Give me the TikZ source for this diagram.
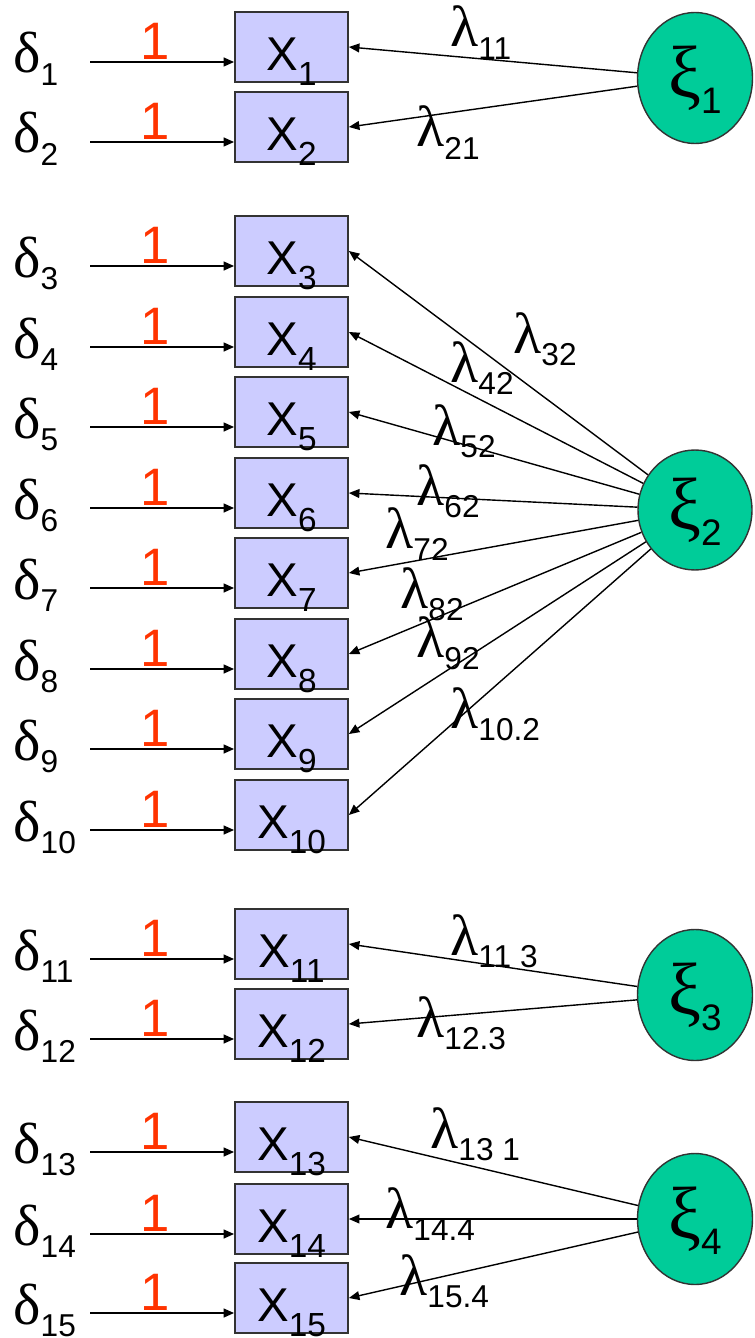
\documentclass[tikz,border=0pt]{standalone}
\usepackage{fontspec}
\setmainfont{Liberation Sans}
\newfontfamily\grk{Liberation Serif}
\usetikzlibrary{arrows.meta, shapes.geometric}
\definecolor{boxlav}{HTML}{CCCCFF}
\definecolor{latgreen}{HTML}{00CC99}
\definecolor{onered}{HTML}{FF3300}
\definecolor{edgegray}{HTML}{333333}

% lowered sans subscript: size, drop, text
\newcommand{\lowsub}[3]{\raisebox{-#2}[0pt][0pt]{\fontsize{#1}{#1}\selectfont #3}}
\newcommand{\dlab}[1]{{\fontsize{33}{33}\selectfont\grk δ}\lowsub{18}{7pt}{#1}}
\newcommand{\llab}[1]{{\fontsize{33}{33}\selectfont\grk λ}\lowsub{18}{7pt}{#1}}
\newcommand{\xlab}[1]{\raisebox{-13.6pt}[0pt][0pt]{%
  {\fontsize{27}{27}\selectfont X}\lowsub{19}{8.5pt}{#1}}}
\newcommand{\xilab}[1]{{\fontsize{42}{42}\selectfont\grk ξ}\lowsub{21}{9pt}{#1}}

\tikzset{
  obs/.style={draw=edgegray, line width=1pt, fill=boxlav,
    minimum width=2.26cm, minimum height=1.4cm, inner sep=0pt},
  lat/.style={ellipse, draw=edgegray, line width=0.8pt, fill=latgreen,
    minimum width=2.3cm, minimum height=2.62cm, inner sep=0pt},
  err/.style={->, line width=1.1pt},
  load/.style={->, line width=0.8pt},
  one/.style={text=onered, font=\fontsize{30}{30}\selectfont,
    inner sep=0pt, anchor=south, yshift=1pt},
  greek/.style={anchor=base west, inner sep=0pt}
}

\begin{document}
\begin{tikzpicture}[x=0.02cm, y=-0.02cm, >={Triangle[length=6pt, width=5pt]}]

\useasboundingbox (0,0) rectangle (754,1338);

% ================================================================
% Indicators X1..X15 with their error terms
% ================================================================
\foreach \i/\yc in {1/47, 2/127, 3/251, 4/332, 5/412, 6/493, 7/573, 8/654,
                    9/734, 10/815, 11/944, 12/1024, 13/1137, 14/1219, 15/1298} {
  \node[obs] (x\i) at (291.5,\yc) {\xlab{\i}};
  \node[greek] (d\i) at (13,\yc+26) {\dlab{\i}};
  \coordinate (s\i) at (90,\yc+15);
  \draw[err] (s\i) -- node[one, pos=0.45] {1} (s\i -| x\i.west);
}

% ================================================================
% Latent factors
% ================================================================
\node[lat] (xi1) at (695,78) {\xilab{1}};
\node[lat, minimum height=2.4cm, minimum width=2.28cm] (xi2) at (695,510) {\xilab{2}};
\node[lat] (xi3) at (695,995) {\xilab{3}};
\node[lat] (xi4) at (695,1219) {\xilab{4}};

% Loadings
\foreach \j/\k in {1/1, 2/1, 3/2, 4/2, 5/2, 6/2, 7/2, 8/2, 9/2, 10/2,
                   11/3, 12/3, 13/4, 14/4, 15/4}
  \draw[load] (xi\k) -- (x\j.east);

% Loading labels (baseline of the lambda)
\foreach \j/\lx/\ly/\sb in {1/450/47/11, 2/416/147/21, 3/513/353/32,
    4/450/382/42, 5/432/445/52, 6/416/505/62, 7/385/548/72, 8/400/608/82,
    9/416/657/92, 10/450/728/10.2, 11/450/955/11 3, 12/416/1037/12.3,
    13/430/1148/13 1, 14/385/1228/14.4, 15/399/1295/15.4}
  \node[greek] (l\j) at (\lx,\ly) {\llab{\sb}};

\end{tikzpicture}
\end{document}
